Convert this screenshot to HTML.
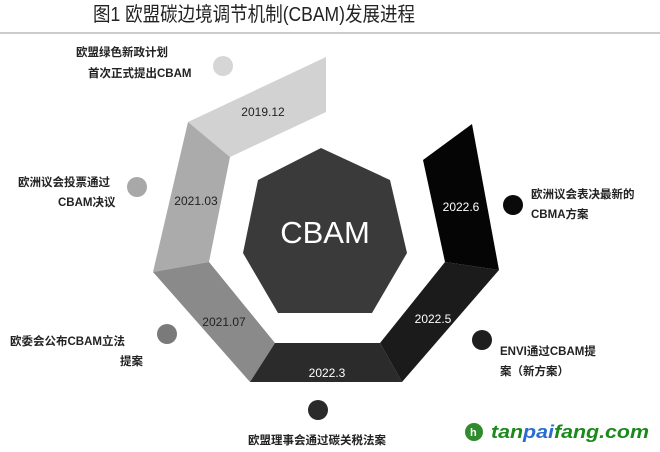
<!DOCTYPE html>
<html><head><meta charset="utf-8"><style>
html,body{margin:0;padding:0;background:#fff;}
svg{display:block}
text{font-family:"Liberation Sans","Noto Sans CJK SC",sans-serif;}
</style></head><body>
<svg width="660" height="452" viewBox="0 0 660 452" xmlns="http://www.w3.org/2000/svg">
<rect width="660" height="452" fill="#fff"/>
<text x="93" y="21" font-size="20" fill="#222" textLength="322" lengthAdjust="spacingAndGlyphs">图1  欧盟碳边境调节机制(CBAM)发展进程</text>
<line x1="0" y1="33" x2="660" y2="33" stroke="#999" stroke-width="1"/>

<polygon points="188,122 326,57 326,112 230,157" fill="#d2d2d2"/>
<polygon points="188,122 230,157 209,262 153,272" fill="#ababab"/>
<polygon points="153,272 209,262 275,343 250,382" fill="#8a8a8a"/>
<polygon points="275,343 250,382 402,382 380,343" fill="#2b2b2b"/>
<polygon points="380,343 402,382 499,270 445,262" fill="#1b1b1b"/>
<polygon points="445,262 499,270 472,124 423,160" fill="#050505"/>
<polygon points="321,148 390,180 407,253 372,313 278,313 243,253 258,180" fill="#3a3a3a"/>
<text x="325" y="243" font-size="31" fill="#fff" text-anchor="middle">CBAM</text>

<g font-size="12" text-anchor="middle">
<text x="263" y="116" fill="#222">2019.12</text>
<text x="196" y="205" fill="#222">2021.03</text>
<text x="224" y="326" fill="#222">2021.07</text>
<text x="327" y="377" fill="#fff">2022.3</text>
<text x="433" y="323" fill="#fff">2022.5</text>
<text x="461" y="211" fill="#fff">2022.6</text>
</g>

<circle cx="223" cy="66" r="10" fill="#d6d6d6"/>
<circle cx="137" cy="187" r="10" fill="#a8a8a8"/>
<circle cx="167" cy="334" r="10" fill="#7a7a7a"/>
<circle cx="318" cy="410" r="10" fill="#2a2a2a"/>
<circle cx="513" cy="205" r="10" fill="#0a0a0a"/>
<circle cx="482" cy="340" r="10" fill="#1e1e1e"/>

<g font-size="11.5" fill="#222" font-weight="bold">
<text x="76" y="56">欧盟绿色新政计划</text>
<text x="88" y="77">首次正式提出CBAM</text>
<text x="18" y="186">欧洲议会投票通过</text>
<text x="58" y="206">CBAM决议</text>
<text x="10" y="345">欧委会公布CBAM立法</text>
<text x="120" y="365">提案</text>
<text x="248" y="444">欧盟理事会通过碳关税法案</text>
<text x="531" y="198">欧洲议会表决最新的</text>
<text x="531" y="218">CBMA方案</text>
<text x="500" y="355">ENVI通过CBAM提</text>
<text x="500" y="375">案（新方案）</text>
</g>

<circle cx="474" cy="432" r="9" fill="#2e8b2e"/>
<text x="470" y="436" font-size="11" fill="#fff" font-weight="bold">h</text>
<text x="491" y="438" font-size="18" font-weight="bold" font-style="italic" fill="#1a8a1a" textLength="158" lengthAdjust="spacingAndGlyphs">tan<tspan fill="#2a6ccf">pai</tspan>fang.com</text>
</svg>
</body></html>
